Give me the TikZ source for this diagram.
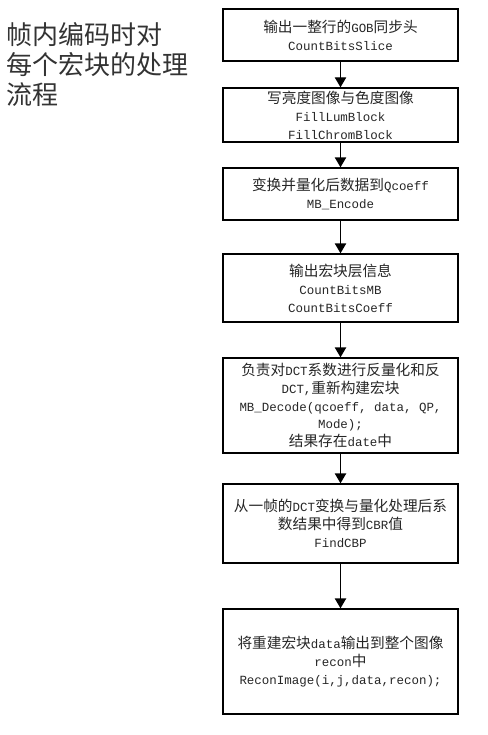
\documentclass[tikz,border=0pt]{standalone}
\usepackage{fontspec}
\newfontfamily\cjk{Noto Sans CJK SC}
\setmonofont[Scale=0.85]{Liberation Mono}
\usetikzlibrary{positioning,arrows.meta}
\tikzset{
  stepbox/.style={draw=black,line width=1pt,minimum width=176.25pt,inner sep=2pt,align=center,
    font=\cjk\fontsize{11}{13.4}\selectfont,text=black!85},
  flow/.style={-{Triangle[length=7.5pt,width=8.5pt]},line width=1pt},
  ttl/.style={font=\cjk\fontsize{19.5}{22.5}\selectfont,align=left,anchor=north west,
    inner sep=0pt,text=black!80},
}
\begin{document}
\begin{tikzpicture}[x=0.75pt,y=-0.75pt]
  \useasboundingbox (0,0) rectangle (487,735);
  \node[ttl] (title) at (6,22) {帧内编码时对\\每个宏块的处理\\流程};
  % process steps, one box each
  \node[stepbox,minimum height=39pt] (gob) at (340.5,35)
    {输出一整行的\texttt{GOB}同步头\\\texttt{CountBitsSlice}};
  \node[stepbox,minimum height=40.5pt] (fill) at (340.5,115)
    {写亮度图像与色度图像\\\texttt{FillLumBlock}\\\texttt{FillChromBlock}};
  \node[stepbox,minimum height=39pt] (enc) at (340.5,194)
    {变换并量化后数据到\texttt{Qcoeff}\\\texttt{MB\_Encode}};
  \node[stepbox,minimum height=51pt] (bits) at (340.5,288)
    {输出宏块层信息\\\texttt{CountBitsMB}\\\texttt{CountBitsCoeff}};
  \node[stepbox,minimum height=71.25pt] (dec) at (340.5,405.5)
    {负责对\texttt{DCT}系数进行反量化和反\\\texttt{DCT,}重新构建宏块\\\texttt{MB\_Decode(qcoeff, data, QP,}\\\texttt{Mode);}\\结果存在\texttt{date}中};
  \node[stepbox,minimum height=59.25pt] (cbp) at (340.5,523.5)
    {从一帧的\texttt{DCT}变换与量化处理后系\\数结果中得到\texttt{CBR}值\\\texttt{FindCBP}};
  \node[stepbox,minimum height=78.75pt] (recon) at (340.5,661.5)
    {将重建宏块\texttt{data}输出到整个图像\\\texttt{recon}中\\\texttt{ReconImage(i,j,data,recon);}};
  \foreach \a/\b in {gob/fill,fill/enc,enc/bits,bits/dec,dec/cbp,cbp/recon}
    \draw[flow] (\a.south) -- (\b.north);
\end{tikzpicture}
\end{document}
